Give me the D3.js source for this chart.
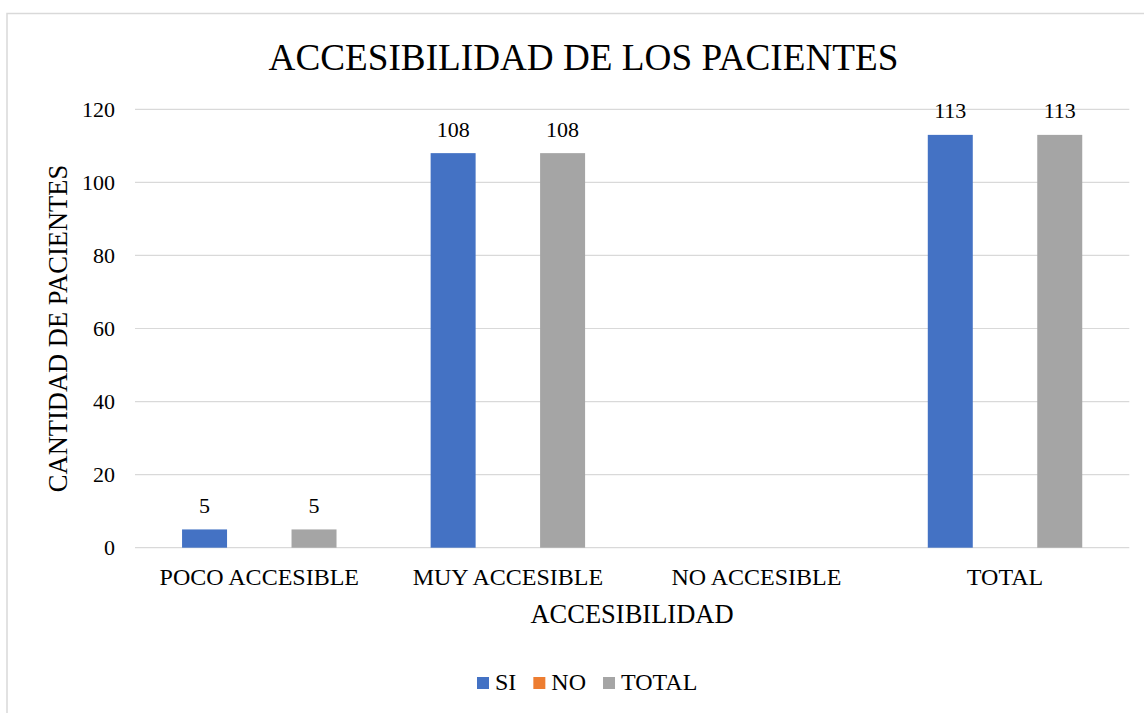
<!DOCTYPE html>
<html>
<head>
<meta charset="utf-8">
<script src="https://cdn.jsdelivr.net/npm/d3@7"></script>
<style>
  html, body { margin: 0; padding: 0; background: #fff; }
  svg { display: block; font-family: "Liberation Serif", "Times New Roman", serif; }
</style>
</head>
<body>
<svg id="chart" width="1144" height="713"></svg>
<script>
const categories = ["POCO ACCESIBLE", "MUY ACCESIBLE", "NO ACCESIBLE", "TOTAL"];
const seriesNames = ["SI", "NO", "TOTAL"];
const siValues = [5, 108, null, 113];
const noValues = [null, null, null, null];
const totalValues = [5, 108, null, 113];
const yTicks = [0, 20, 40, 60, 80, 100, 120];
const colors = ["#4472C4", "#ED7D31", "#A5A5A5"];
const title = "ACCESIBILIDAD DE LOS PACIENTES";
const xTitle = "ACCESIBILIDAD";
const yTitle = "CANTIDAD DE PACIENTES";

const seriesValues = [siValues, noValues, totalValues];

const svg = d3.select("#chart");
const plot = { left: 135, right: 1129.3, top: 109.3, bottom: 547.7 };

// outer chart border
svg.append("rect")
  .attr("x", 7).attr("y", 13.5)
  .attr("width", 1160).attr("height", 720)
  .attr("fill", "none").attr("stroke", "#d9d9d9").attr("stroke-width", 1.5);

const x0 = d3.scaleBand().domain(categories).range([plot.left, plot.right]).padding(0);
const bw = x0.bandwidth();
const slot = bw * 0.2202;
const barPad = 0.178;
const x1 = d3.scaleBand().domain(seriesNames)
  .range([bw / 2 - 1.5 * slot, bw / 2 + 1.5 * slot])
  .paddingInner(barPad).paddingOuter(barPad / 2);
const y = d3.scaleLinear().domain([0, 120]).range([plot.bottom, plot.top]);

// gridlines
svg.append("g").selectAll("line").data(yTicks).join("line")
  .attr("x1", plot.left).attr("x2", plot.right)
  .attr("y1", d => y(d)).attr("y2", d => y(d))
  .attr("stroke", "#d9d9d9").attr("stroke-width", 1.2);

// y tick labels
svg.append("g").selectAll("text").data(yTicks).join("text")
  .attr("x", 115).attr("y", d => y(d) + 7.5)
  .attr("text-anchor", "end")
  .attr("font-size", 22).attr("fill", "#000")
  .text(d => d);

// bars
const barData = [];
categories.forEach((c, ci) => {
  seriesNames.forEach((s, si) => {
    barData.push({ cat: c, series: s, si, value: seriesValues[si][ci] });
  });
});
const valid = barData.filter(d => d.value !== null);

svg.append("g").selectAll("rect").data(valid).join("rect")
  .attr("x", d => x0(d.cat) + x1(d.series))
  .attr("y", d => y(d.value))
  .attr("width", x1.bandwidth())
  .attr("height", d => y(0) - y(d.value))
  .attr("fill", d => colors[d.si]);

// data labels
svg.append("g").selectAll("text").data(valid).join("text")
  .attr("x", d => x0(d.cat) + x1(d.series) + x1.bandwidth() / 2)
  .attr("y", d => y(d.value) - 16.5)
  .attr("text-anchor", "middle")
  .attr("font-size", 22).attr("fill", "#000")
  .text(d => d.value);

// x tick labels
svg.append("g").selectAll("text").data(categories).join("text")
  .attr("x", d => x0(d) + bw / 2)
  .attr("y", 585)
  .attr("text-anchor", "middle")
  .attr("font-size", 24).attr("fill", "#000")
  .text(d => d);

// title
svg.append("text")
  .attr("x", 583.5).attr("y", 70)
  .attr("text-anchor", "middle")
  .attr("font-size", 37.2).attr("fill", "#000")
  .text(title);

// x axis title
svg.append("text")
  .attr("x", 632).attr("y", 623)
  .attr("text-anchor", "middle")
  .attr("font-size", 26.5).attr("fill", "#000")
  .text(xTitle);

// y axis title
svg.append("text")
  .attr("transform", `translate(67, ${(plot.top + plot.bottom) / 2}) rotate(-90)`)
  .attr("text-anchor", "middle")
  .attr("font-size", 26.5).attr("fill", "#000")
  .text(yTitle);

// legend
const legend = svg.append("g");
let lx = 477;
seriesNames.forEach((s, i) => {
  legend.append("rect")
    .attr("x", lx).attr("y", 677)
    .attr("width", 12).attr("height", 12)
    .attr("fill", colors[i]);
  const t = legend.append("text")
    .attr("x", lx + 18).attr("y", 690)
    .attr("font-size", 24).attr("fill", "#000")
    .text(s);
  const w = t.node().getComputedTextLength();
  lx = lx + 18 + w + 17;
});
</script>
</body>
</html>
